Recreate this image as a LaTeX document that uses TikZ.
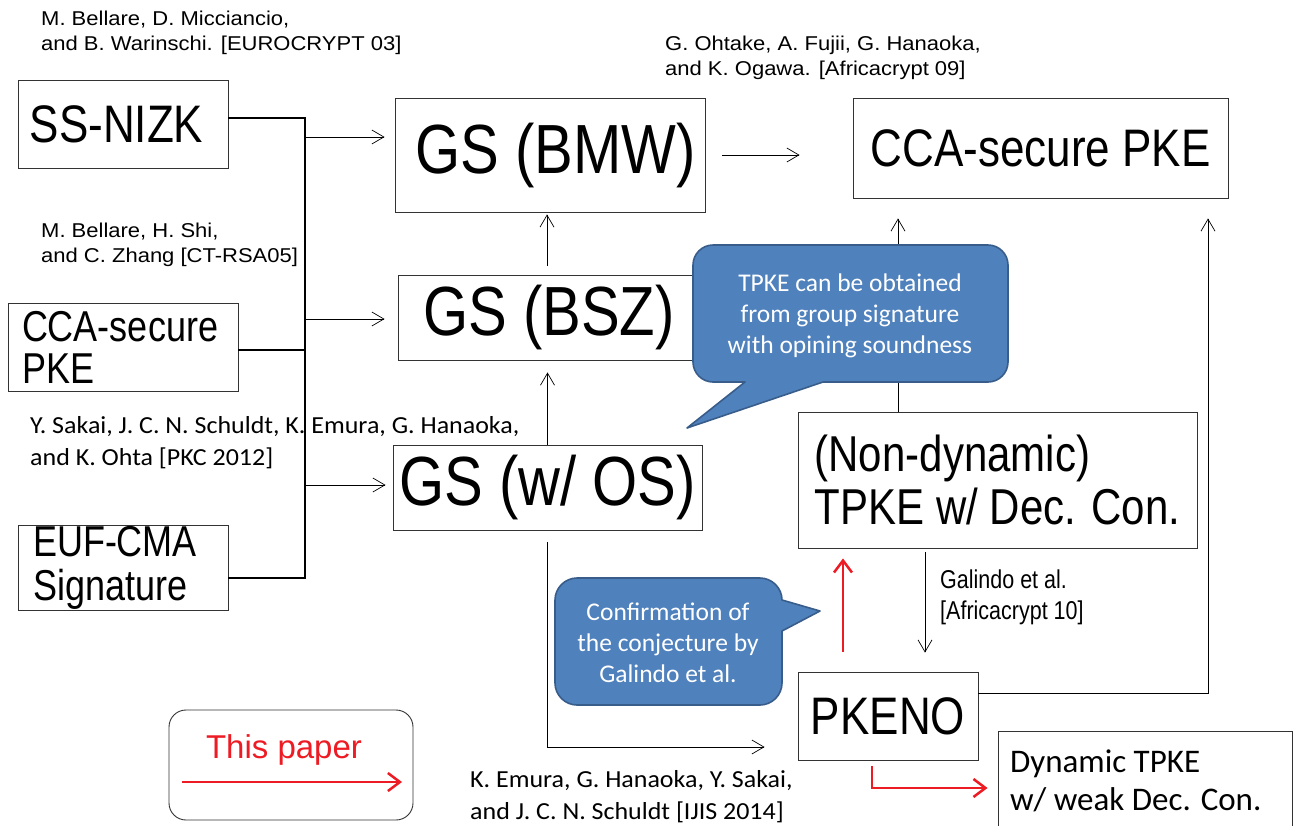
\documentclass[tikz,border=0pt]{standalone}
\usepackage{fontspec}
\usepackage{graphicx}
\setmainfont{Liberation Sans}
\newfontfamily\calfont{Carlito}
\usetikzlibrary{arrows.meta}
\definecolor{bubblefill}{RGB}{79,129,189}
\definecolor{bubbleedge}{RGB}{56,93,138}
\definecolor{resred}{RGB}{237,28,36}
% tall / wide variants of a line of text
\newcommand\tallbox[1]{\scalebox{1}[1.2]{#1}}
\newcommand\widebox[1]{\scalebox{1.1}[1]{#1}}
\newcommand\wideCal[1]{\scalebox{1.06}[1]{#1}}

\begin{document}
\begin{tikzpicture}[x=1pt,y=-1pt,
  box/.style={draw=black!80, line width=0.9pt, inner sep=0pt},
  bigtext/.style={font=\fontsize{58}{60}\selectfont},
  midtext/.style={font=\fontsize{44}{48}\selectfont},
  link/.style={line width=0.7pt, -{Straight Barb[length=12pt,width=14pt,line width=0.7pt]}},
  bus/.style={line width=1.3pt},
  newres/.style={draw=resred, line width=2.5pt, -{Straight Barb[length=12pt,width=18pt,line width=2.5pt]}},
  citeA/.style={anchor=west, align=left, inner sep=0pt, font=\fontsize{20}{25}\selectfont},
  citeB/.style={anchor=west, align=left, inner sep=0pt, font=\calfont\fontsize{24.5}{32}\selectfont},
  bubble/.style={fill=bubblefill, draw=bubbleedge, line width=1.6pt, line join=round},
  bubbletext/.style={text=white, align=center, inner sep=0pt, font=\calfont\fontsize{25.5}{31}\selectfont}
]
\useasboundingbox (0,0) rectangle (1293,825);
\fill[white] (0,0) rectangle (1293,825);
\clip (0,0) rectangle (1293,825);

% ---- citations ----
\node[citeA] (cite1) at (41,33) {\widebox{M. Bellare, D. Micciancio,}\\\widebox{and B. Warinschi. [EUROCRYPT 03]}};
\node[citeA] (cite2) at (665,58) {\widebox{G. Ohtake, A. Fujii, G. Hanaoka,}\\\widebox{and K. Ogawa. [Africacrypt 09]}};
\node[citeA] (cite3) at (41,245) {\widebox{M. Bellare, H. Shi,}\\\widebox{and C. Zhang [CT-RSA05]}};
\node[citeB] (cite4) at (30,443) {\wideCal{Y. Sakai, J. C. N. Schuldt, K. Emura, G. Hanaoka,}\\\wideCal{and K. Ohta [PKC 2012]}};
\node[citeB] (cite5) at (470,797) {\wideCal{K. Emura, G. Hanaoka, Y. Sakai,}\\\wideCal{and J. C. N. Schuldt [IJIS 2014]}};
\node[anchor=west, align=left, inner sep=0pt, font=\fontsize{21.5}{31}\selectfont] (cite6) at (940,597)
  {\tallbox{Galindo et al.}\\\tallbox{[Africacrypt 10]}};

% ---- schemes ----
\node[box, midtext, minimum width=210pt, minimum height=88pt] (ssnizk) at (123,124) {\tallbox{SS-NIZK}\hspace*{13pt}};
\node[box, bigtext, minimum width=310pt, minimum height=114pt] (gsbmw) at (550,155) {\hspace*{11pt}\tallbox{GS (BMW)}};
\node[box, midtext, minimum width=375pt, minimum height=100pt] (ccapke) at (1040.5,148) {\tallbox{CCA-secure PKE}};
\node[box, minimum width=230pt, minimum height=88pt, align=flush left, text width=202pt, inner xsep=14pt,
  font=\fontsize{36}{42}\selectfont] (ccaleft) at (123,347) {\tallbox{CCA-secure}\\\tallbox{PKE}};
\node[box, bigtext, minimum width=302pt, minimum height=85pt] (gsbsz) at (549,317.5) {\tallbox{GS (BSZ)}};
\node[box, bigtext, minimum width=309pt, minimum height=85pt] (gsos) at (547.5,487.5) {\tallbox{GS (w/ OS)}};
\node[box, minimum width=210pt, minimum height=85pt, align=flush left, text width=180pt, inner xsep=15pt,
  font=\fontsize{36}{44}\selectfont] (eufcma) at (123,567.5) {\tallbox{EUF-CMA}\\\tallbox{Signature}};
\node[box, minimum width=399pt, minimum height=136pt, align=left,
  font=\fontsize{42}{53}\selectfont] (tpke) at (997.5,480) {\tallbox{(Non-dynamic)}\\\tallbox{TPKE w/ Dec. Con.}};
\node[box, midtext, minimum width=180pt, minimum height=88pt] (pkeno) at (888,716) {\tallbox{PKENO}};
\node[box, minimum width=294pt, minimum height=100pt, align=flush left, text width=270pt, inner xsep=12pt,
  font=\calfont\fontsize{33}{38}\selectfont] (dyn) at (1145,781) {Dynamic TPKE\\w/ weak Dec. Con.};

% ---- legend ----
\node[draw=black!80, line width=0.9pt, rounded corners=17pt, minimum width=244pt, minimum height=110pt] (legend) at (291,765) {};
\node[text=resred, inner sep=0pt, font=\fontsize{33}{36}\selectfont] (legendtext) at (284,750) {This paper};
\coordinate (lgA) at (182,782);
\coordinate (lgB) at (402,782);
\draw[newres] (lgA) -- (lgB);

% ---- input bus on the left ----
\coordinate (busTop) at (305,118);
\coordinate (busBot) at (305,578);
\draw[bus] ([yshift=6pt]ssnizk.east) -- (busTop) -- (busBot) -- ([yshift=-10.5pt]eufcma.east);
\draw[bus] ([yshift=-3pt]ccaleft.east) -- ([yshift=-3pt]ccaleft.east -| busTop);
\coordinate (b1) at (305,137);
\coordinate (b2) at (305,319);
\coordinate (b3) at (305,485);
\draw[link, shorten >=10pt] (b1) -- (b1 -| gsbmw.west);
\draw[link, shorten >=13pt] (b2) -- (b2 -| gsbsz.west);
\draw[link, shorten >=7pt] (b3) -- (b3 -| gsos.west);

% ---- implications ----
\draw[link, shorten <=9pt, shorten >=2pt] ([xshift=-2pt]gsbsz.north) -- ([xshift=-2pt]gsbsz.north |- gsbmw.south);
\draw[link, shorten >=12pt] (gsos.north) -- (gsos.north |- gsbsz.south);
\draw[link, shorten <=17pt, shorten >=53pt] (gsbmw.east) -- (gsbmw.east -| ccapke.west);
\draw[link, shorten >=20pt] ([xshift=-99.5pt]tpke.north) -- ([xshift=-99.5pt]tpke.north |- ccapke.south);
\draw[link, shorten <=4pt, shorten >=19pt] ([xshift=37pt]pkeno.north |- tpke.south) -- ([xshift=37pt]pkeno.north);
\draw[link, shorten >=20pt] ([yshift=23pt]pkeno.east) -| ([xshift=167.5pt]ccapke.south);
\draw[link, shorten <=12pt, shorten >=33pt] (gsos.south) |- ([yshift=-31pt]pkeno.west);

% ---- results of this paper ----
\draw[newres, shorten <=20pt, shorten >=10pt] ([xshift=-45pt]pkeno.north) -- ([xshift=-45pt]pkeno.north |- tpke.south);
\draw[newres, shorten <=6pt, shorten >=10pt] ([xshift=-16pt]pkeno.south) |- ([yshift=-7pt]dyn.west);

% ---- speech bubbles ----
\draw[bubble] (713,245) -- (988,245) .. controls (999,245) and (1008,254) .. (1008,265)
  -- (1008,362) .. controls (1008,373) and (999,382) .. (988,382)
  -- (823,382) -- (687,428) -- (745,382)
  -- (713,382) .. controls (702,382) and (693,373) .. (693,362)
  -- (693,265) .. controls (693,254) and (702,245) .. (713,245) -- cycle;
\node[bubbletext] (note1) at (850,316) {TPKE can be obtained\\from group signature\\with opining soundness};

\draw[bubble] (577,578) -- (760,578) .. controls (772,578) and (782,588) .. (782,600)
  -- (820,611) -- (782,631)
  -- (782,683) .. controls (782,695) and (772,705) .. (760,705)
  -- (577,705) .. controls (565,705) and (555,695) .. (555,683)
  -- (555,600) .. controls (555,588) and (565,578) .. (577,578) -- cycle;
\node[bubbletext] (note2) at (668,643) {Confirmation of\\the conjecture by\\Galindo et al.};
\end{tikzpicture}
\end{document}
